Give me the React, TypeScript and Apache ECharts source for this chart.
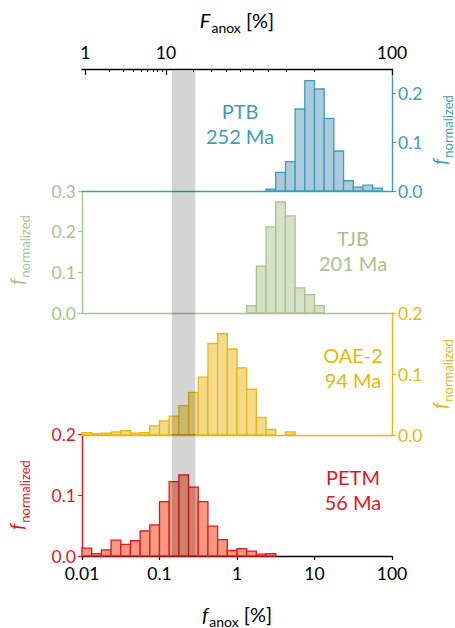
import React, { useEffect, useRef } from "react";
import * as echarts from "echarts";

// Horizontal range of f_anox [%] (log axis) and histogram binning
const X_MIN = 0.01;
const X_MAX = 100;
const BINS_PER_DECADE = 8;

// Normalized frequency per log bin; each list starts at the given bin index
const PTB_FIRST_BIN = 19;
const PTB_VALUES = [0.004, 0.038, 0.06, 0.168, 0.226, 0.209, 0.149, 0.082, 0.021, 0.008, 0.012, 0.006];
const TJB_FIRST_BIN = 17;
const TJB_VALUES = [0.018, 0.115, 0.212, 0.273, 0.239, 0.062, 0.045, 0.018];
const OAE2_FIRST_BIN = 0;
const OAE2_VALUES = [0.004, 0.002, 0.003, 0.005, 0.007, 0.003, 0.004, 0.015, 0.023, 0.031, 0.048, 0.07, 0.095, 0.15, 0.166, 0.141, 0.11, 0.075, 0.029, 0.009, 0, 0.005];
const PETM_FIRST_BIN = 0;
const PETM_VALUES = [0.013, 0.004, 0.01, 0.026, 0.019, 0.025, 0.041, 0.051, 0.089, 0.122, 0.133, 0.113, 0.089, 0.049, 0.027, 0.009, 0.012, 0.008, 0.003, 0.004];

const EVENT_NAMES = ["PTB", "TJB", "OAE-2", "PETM"];
const EVENT_AGES = ["252 Ma", "201 Ma", "94 Ma", "56 Ma"];
const Y_MAX = [0.25, 0.3, 0.2, 0.2];
const Y_TICKS = [[0, 0.1, 0.2], [0, 0.1, 0.2, 0.3], [0, 0.1, 0.2], [0, 0.1, 0.2]];
const BOTTOM_TICKS = [0.01, 0.1, 1, 10, 100];
const TOP_MAJOR_TICKS = [1, 10, 100];
const TOP_MINOR_TICKS = [2, 3, 4, 5, 6, 7, 8, 9, 20, 30, 40, 50, 60, 70, 80, 90];
const SHADED_RANGE = [0.145, 0.29];
// F_anox = 100 * K f / (1 + K f)
const K_ANOX = 0.918;

// Layout & style
const W = 455;
const H = 628;
const PLOT_LEFT = 82;
const PLOT_RIGHT = W - 392;
const PANEL_TOPS = [69, 191, 313, 434];
const PANEL_HEIGHT = 122;
const FONT = "Lato";
const WEIGHT = 400;
const EDGE = ["#3a9dbd", "#a8c38c", "#e6b80a", "#e3161e"];
const FILL = ["#abcadb", "#d6e1c7", "#f5da8d", "#f49a82"];
const BAND = "rgba(0,0,0,0.17)";

const LOG_MIN = Math.log10(X_MIN);
const LOG_MAX = Math.log10(X_MAX);
const logEdge = (k: number) => LOG_MIN + k / BINS_PER_DECADE;
const fFromF = (F: number) => (F >= 100 ? X_MAX : F / (K_ANOX * (100 - F)));
const topPos = (F: number) => Math.log10(fFromF(F));
const fmtNum = (v: number) => String(Number(v.toPrecision(3)));

const HISTS = [
  { first: PTB_FIRST_BIN, values: PTB_VALUES },
  { first: TJB_FIRST_BIN, values: TJB_VALUES },
  { first: OAE2_FIRST_BIN, values: OAE2_VALUES },
  { first: PETM_FIRST_BIN, values: PETM_VALUES },
];

function buildOption() {
  const grids = PANEL_TOPS.map((top) => ({
    left: PLOT_LEFT,
    right: PLOT_RIGHT,
    top,
    height: PANEL_HEIGHT,
    containLabel: false,
  }));

  const tickFont = { fontSize: 17.5, fontFamily: FONT, fontWeight: WEIGHT };

  const xAxes: any[] = [0, 1, 2, 3].map((i) => ({
    type: "value",
    gridIndex: i,
    min: LOG_MIN,
    max: LOG_MAX,
    position: "bottom",
    axisLine: { show: true, onZero: false, lineStyle: { color: i === 3 ? "#000" : EDGE[i], width: 1.4 } },
    axisTick: {
      show: i === 3,
      length: 4,
      customValues: BOTTOM_TICKS.map(Math.log10),
      lineStyle: { color: "#000", width: 1.2 },
    },
    axisLabel: {
      show: i === 3,
      customValues: BOTTOM_TICKS.map(Math.log10),
      formatter: (v: number) => fmtNum(Math.pow(10, v)),
      color: "#000",
      ...tickFont,
      margin: 8,
    },
    splitLine: { show: false },
  }));

  // Top axis in F_anox units (major ticks + labels)
  xAxes.push({
    type: "value",
    gridIndex: 0,
    min: LOG_MIN,
    max: LOG_MAX,
    position: "top",
    axisLine: { show: true, onZero: false, lineStyle: { color: "#000", width: 1.4 } },
    axisTick: {
      show: true,
      inside: true,
      length: 6,
      customValues: TOP_MAJOR_TICKS.map(topPos),
      lineStyle: { color: "#000", width: 1.2 },
    },
    axisLabel: {
      show: true,
      customValues: TOP_MAJOR_TICKS.map(topPos),
      formatter: (v: number) => {
        let best = TOP_MAJOR_TICKS[0];
        TOP_MAJOR_TICKS.forEach((F) => {
          if (Math.abs(topPos(F) - v) < Math.abs(topPos(best) - v)) best = F;
        });
        return String(best);
      },
      color: "#000",
      ...tickFont,
      margin: 8,
    },
    splitLine: { show: false },
  });
  // Top axis minor ticks
  xAxes.push({
    type: "value",
    gridIndex: 0,
    min: LOG_MIN,
    max: LOG_MAX,
    position: "top",
    axisLine: { show: false, onZero: false },
    axisTick: {
      show: true,
      inside: true,
      length: 3,
      customValues: TOP_MINOR_TICKS.map(topPos),
      lineStyle: { color: "#000", width: 1 },
    },
    axisLabel: { show: false },
    splitLine: { show: false },
  });

  const yAxes = [0, 1, 2, 3].map((i) => ({
    type: "value",
    gridIndex: i,
    min: 0,
    max: Y_MAX[i],
    position: i % 2 === 0 ? "right" : "left",
    axisLine: { show: true, onZero: false, lineStyle: { color: EDGE[i], width: 1.4 } },
    axisTick: { show: true, length: 4, customValues: Y_TICKS[i], lineStyle: { color: EDGE[i], width: 1.2 } },
    axisLabel: {
      customValues: Y_TICKS[i],
      formatter: (v: number) => v.toFixed(1),
      color: EDGE[i],
      ...tickFont,
      margin: 6,
    },
    splitLine: { show: false },
  }));

  const series: any[] = [];
  HISTS.forEach((h, i) => {
    series.push({
      type: "custom",
      xAxisIndex: i,
      yAxisIndex: i,
      z: 2,
      silent: true,
      encode: { x: [0, 1], y: 2 },
      data: h.values.map((v, j) => [logEdge(h.first + j), logEdge(h.first + j + 1), v]),
      renderItem: (_p: any, api: any) => {
        const v = api.value(2);
        if (!v) return { type: "group", children: [] };
        const a = api.coord([api.value(0), v]);
        const b = api.coord([api.value(1), 0]);
        return {
          type: "rect",
          shape: { x: a[0], y: a[1], width: b[0] - a[0], height: b[1] - a[1] },
          style: { fill: FILL[i], stroke: EDGE[i], lineWidth: 1.3 },
        };
      },
    });
    // shaded f_anox range across the panel
    series.push({
      type: "custom",
      xAxisIndex: i,
      yAxisIndex: i,
      z: 5,
      silent: true,
      encode: { x: [0, 1], y: 2 },
      data: [[Math.log10(SHADED_RANGE[0]), Math.log10(SHADED_RANGE[1]), Y_MAX[i]]],
      renderItem: (_p: any, api: any) => {
        const a = api.coord([api.value(0), api.value(2)]);
        const b = api.coord([api.value(1), 0]);
        const inset = i === 0 ? 2 : 0;
        return {
          type: "rect",
          shape: { x: a[0], y: a[1] + inset, width: b[0] - a[0], height: b[1] - a[1] - inset },
          style: { fill: BAND },
        };
      },
    });
  });

  const labelPos = [
    [240, 123],
    [353, 250],
    [353, 367],
    [353, 489],
  ];
  const graphic: any[] = EVENT_NAMES.map((name, i) => ({
    type: "text",
    x: labelPos[i][0],
    y: labelPos[i][1],
    style: {
      text: `${name}\n${EVENT_AGES[i]}`,
      fill: EDGE[i],
      fontSize: 20,
      fontFamily: FONT,
      fontWeight: WEIGHT,
      lineHeight: 25,
      align: "center",
      verticalAlign: "middle",
    },
    z: 10,
  }));

  const yTitle = (color: string) => ({
    text: "{f|f}{s|normalized}",
    align: "center",
    verticalAlign: "middle",
    rich: {
      f: { fontSize: 19, fontStyle: "italic", fontFamily: FONT, fontWeight: WEIGHT, fill: color, verticalAlign: "bottom", padding: [0, 1, 5, 0] },
      s: { fontSize: 13, fontFamily: FONT, fontWeight: WEIGHT, fill: color, verticalAlign: "bottom" },
    },
  });
  const yTitlePos = [
    [442, 130],
    [19, 250],
    [442, 374],
    [19, 495],
  ];
  yTitlePos.forEach((p, i) => {
    graphic.push({ type: "text", x: p[0], y: p[1], rotation: Math.PI / 2, style: yTitle(EDGE[i]), z: 10 });
  });

  const xTitle = (sym: string) => ({
    text: `{F|${sym}}{s|anox}{n| [%]}`,
    align: "center",
    verticalAlign: "middle",
    rich: {
      F: { fontSize: 20, fontStyle: "italic", fontFamily: FONT, fontWeight: WEIGHT, fill: "#000", verticalAlign: "bottom", padding: [0, 1, 4, 0] },
      s: { fontSize: 14, fontFamily: FONT, fontWeight: WEIGHT, fill: "#000", verticalAlign: "bottom" },
      n: { fontSize: 20, fontFamily: FONT, fontWeight: WEIGHT, fill: "#000", verticalAlign: "bottom", padding: [0, 0, 4, 0] },
    },
  });
  graphic.push({ type: "text", x: 237, y: 22, style: xTitle("F"), z: 10 });
  graphic.push({ type: "text", x: 237, y: 616, style: xTitle("f"), z: 10 });

  return {
    animation: false,
    backgroundColor: "#fff",
    grid: grids,
    xAxis: xAxes,
    yAxis: yAxes,
    series,
    graphic,
  };
}

export default function App() {
  const ref = useRef<HTMLDivElement>(null);
  useEffect(() => {
    if (!ref.current) return;
    const chart = echarts.init(ref.current, undefined, { renderer: "svg" });
    chart.setOption(buildOption() as any);
    return () => chart.dispose();
  }, []);
  return <div ref={ref} style={{ position: "fixed", left: 0, top: 0, width: W, height: H }} />;
}
